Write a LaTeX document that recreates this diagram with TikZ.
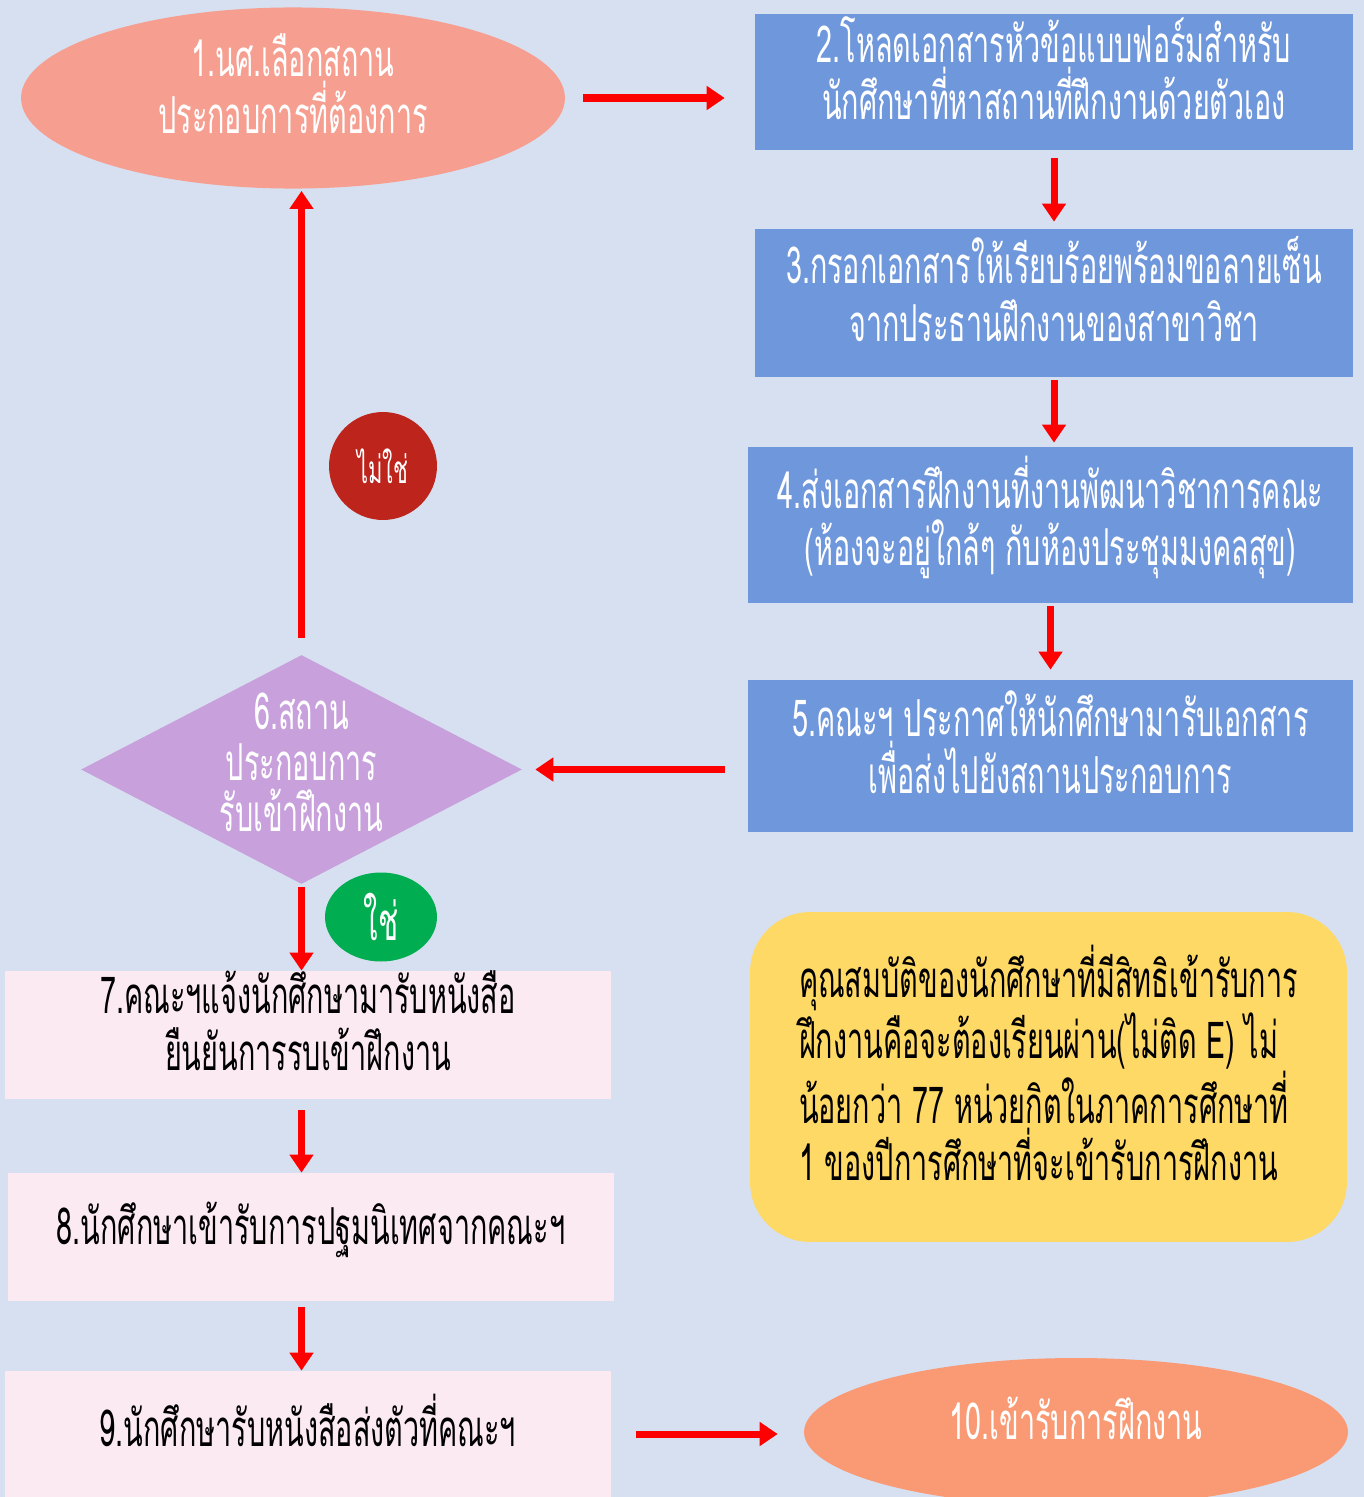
\documentclass[tikz,border=0pt]{standalone}
\usepackage{fontspec}
\newfontfamily\thaifont[Script=Thai,FakeStretch=0.565]{Loma}
\usetikzlibrary{arrows.meta,shapes.geometric,positioning}

\definecolor{bgblue}{RGB}{215,224,240}
\definecolor{stepblue}{RGB}{111,151,220}
\definecolor{startsalmon}{RGB}{246,158,144}
\definecolor{lilac}{RGB}{200,160,220}
\definecolor{noRed}{RGB}{188,36,28}
\definecolor{yesGreen}{RGB}{0,173,80}
\definecolor{pinkbox}{RGB}{252,234,242}
\definecolor{notegold}{RGB}{255,217,102}
\definecolor{endorange}{RGB}{249,154,116}

\begin{document}
\begin{tikzpicture}[x=0.02cm,y=-0.02cm,
	thaitext/.style={font=\thaifont\fontsize{29}{32.5}\selectfont, align=center},
	lifted/.style={thaitext, text depth=16pt},
	bluebox/.style={lifted, fill=stepblue, text=white, inner sep=0pt},
	pinkstep/.style={lifted, fill=pinkbox, text=black, inner sep=0pt},
	oval/.style={lifted, ellipse, text=white, inner sep=0pt},
	decision/.style={diamond, fill=lilac, inner sep=0pt, minimum width=8.82cm, minimum height=4.58cm},
	answer/.style={thaitext, circle, text=white, inner sep=0pt},
	arr/.style={line width=4pt, red, -{Triangle[length=0.36cm,width=0.46cm]}}]

	\useasboundingbox (0,0) rectangle (1364,1497);
	\fill[bgblue] (0,0) rectangle (1364,1497);

	% ขั้นตอน
	\node[oval, fill=startsalmon, minimum width=10.88cm, minimum height=3.6cm] (s1) at (293,98) {1.นศ.เลือกสถาน\\ประกอบการที่ต้องการ};
	\node[bluebox, minimum width=11.96cm, minimum height=2.72cm] (s2) at (1054,82) {2.โหลดเอกสารหัวข้อแบบฟอร์มสำหรับ\\นักศึกษาที่หาสถานที่ฝึกงานด้วยตัวเอง};
	\node[bluebox, minimum width=11.96cm, minimum height=2.96cm] (s3) at (1054,303) {3.กรอกเอกสารให้เรียบร้อยพร้อมขอลายเซ็น\\จากประธานฝึกงานของสาขาวิชา};
	\node[bluebox, minimum width=12.1cm, minimum height=3.12cm] (s4) at (1050.5,525) {4.ส่งเอกสารฝึกงานที่งานพัฒนาวิชาการคณะ\\(ห้องจะอยู่ใกล้ๆ กับห้องประชุมมงคลสุข)};
	\node[bluebox, minimum width=12.1cm, minimum height=3.04cm] (s5) at (1050.5,756) {5.คณะฯ ประกาศให้นักศึกษามารับเอกสาร\\เพื่อส่งไปยังสถานประกอบการ};
	\node[decision, label={[thaitext, font=\thaifont\fontsize{29}{29}\selectfont, text=white, yshift=4]center:{6.สถาน\\ประกอบการ\\รับเข้าฝึกงาน}}] (s6) at (301.5,769.5) {};
	\node[pinkstep, minimum width=12.12cm, minimum height=2.56cm] (s7) at (308,1035) {7.คณะฯแจ้งนักศึกษามารับหนังสือ\\ยืนยันการรบเข้าฝึกงาน};
	\node[pinkstep, minimum width=12.12cm, minimum height=2.56cm] (s8) at (311,1237) {8.นักศึกษาเข้ารับการปฐมนิเทศจากคณะฯ};
	\node[pinkstep, minimum width=12.12cm, minimum height=2.52cm] (s9) at (308,1434) {9.นักศึกษารับหนังสือส่งตัวที่คณะฯ};
	\node[oval, fill=endorange, minimum width=10.88cm, minimum height=2.96cm] (s10) at (1076,1432) {10.เข้ารับการฝึกงาน};

	% ใช่ / ไม่ใช่
	\node[answer, fill=noRed, minimum size=2.16cm, font=\thaifont\fontsize{22}{24}\selectfont] (no) at (383,466) {ไม่ใช่};
	\node[answer, ellipse, fill=yesGreen, minimum width=2.24cm, minimum height=1.78cm, font=\thaifont\fontsize{30}{32}\selectfont] (yes) at (381,917) {ใช่};

	% หมายเหตุ
	\node[lifted, align=left, fill=notegold, rounded corners=1.2cm, minimum width=11.94cm, minimum height=6.6cm] (note) at (1048.5,1077)
		{คุณสมบัติของนักศึกษาที่มีสิทธิเข้ารับการ\\ฝึกงานคือจะต้องเรียนผ่าน(ไม่ติด E) ไม่\\น้อยกว่า 77 หน่วยกิตในภาคการศึกษาที่\\ 1 ของปีการศึกษาที่จะเข้ารับการฝึกงาน};

	% ลูกศร
	\draw[arr, shorten <=0.36cm, shorten >=0.6cm] (s1.east) -- (s1.east -| s2.west);
	\draw[arr, shorten <=0.16cm, shorten >=0.14cm] (s2.south) -- (s3.north);
	\draw[arr, shorten <=0.06cm, shorten >=0.08cm] (s3.south) -- (s3.south |- s4.north);
	\draw[arr, shorten <=0.06cm, shorten >=0.2cm] (s4.south) -- (s5.north);
	\draw[arr, shorten <=0.46cm, shorten >=0.26cm] (s5.west |- s6.east) -- (s6.east);
	\draw[arr, shorten <=0.34cm, shorten >=0.04cm] (s6.north) -- (s6.north |- s1.south);
	\draw[arr, shorten <=0.06cm] (s6.south) -- (s6.south |- s7.north);
	\draw[arr, shorten <=0.22cm] (s7.south -| s6.south) -- (s6.south |- s8.north);
	\draw[arr, shorten <=0.12cm] (s8.south -| s6.south) -- (s6.south |- s9.north);
	\draw[arr, shorten <=0.5cm, shorten >=0.52cm] (s9.east) -- (s9.east -| s10.west);
\end{tikzpicture}
\end{document}
